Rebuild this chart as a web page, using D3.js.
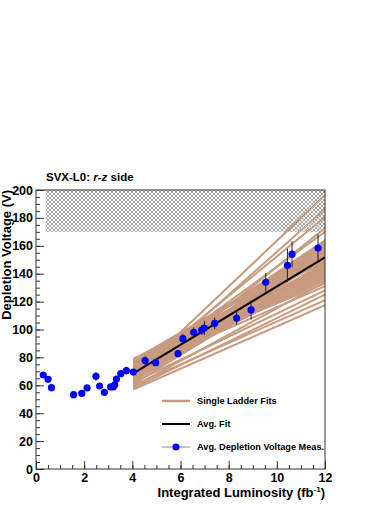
<!DOCTYPE html>
<html>
<head>
<meta charset="utf-8">
<script src="https://cdn.jsdelivr.net/npm/d3@7"></script>
<style>
  html, body { margin: 0; padding: 0; background: #fff; }
  svg { display: block; }
  text { font-family: "Liberation Sans", Arial, Helvetica, sans-serif; font-weight: bold; fill: #000; }
  .tick text { font-size: 12.5px; }
  .legend text { font-size: 9.2px; }
</style>
</head>
<body>
<svg id="chart" width="390" height="505"></svg>
<script>
// ---- data --------------------------------------------------------------
const lumi   = [0.30, 0.50, 0.64, 1.56, 1.90, 2.12, 2.49, 2.64, 2.84, 3.10, 3.21, 3.27, 3.34, 3.52, 3.75,
                4.04, 4.53, 4.97, 5.90, 6.10, 6.55, 6.88, 6.99, 7.42, 8.33, 8.93, 9.54, 10.44, 10.63, 11.71];
const vdep   = [67.4, 64.3, 58.3, 53.3, 54.2, 58.1, 66.4, 59.5, 55.0, 58.8, 58.8, 60.4, 64.5, 68.3, 70.5,
                69.5, 77.7, 76.2, 82.7, 93.4, 98.0, 99.6, 101.0, 104.4, 108.2, 114.0, 133.8, 146.0, 154.0, 158.4];
const vdepErr= [1.5, 1.5, 1.5, 1.2, 1.2, 1.2, 3.2, 1.5, 1.5, 1.5, 1.5, 1.5, 1.5, 1.5, 3.0,
                1.5, 3.0, 2.0, 2.5, 3.5, 3.5, 3.5, 5.0, 4.2, 4.8, 6.7, 6.6, 12.0, 9.4, 9.8];

// single ladder fits: value at the start (4.04 fb^-1) and at the end (12 fb^-1)
const fitRange    = [4.04, 12];
const ladderStart = [66, 64, 68, 62, 70, 72, 65, 75, 60, 78, 68, 73, 63, 76, 70, 79,
                     66, 74, 61, 77, 69, 72, 64, 78, 67, 75, 59, 71, 62, 58, 60, 57,
                     71, 67, 74, 70, 64, 77, 69, 72, 66, 75, 63, 73, 68, 76, 70, 65, 74, 71, 69, 73, 76];
const ladderEnd   = [196.4, 186.4, 180.6, 172.8, 170, 164, 162.5, 161, 159.5, 158, 156.5, 155, 153.5, 152, 150.5, 149,
                     147.5, 146, 145, 144, 143, 142, 141, 140, 138, 136, 134, 131, 128, 125, 121, 117.5,
                     163, 161.5, 160, 158.5, 157, 156, 154, 152.5, 151, 149.5, 148.5, 147, 145.5, 144.5, 143.5, 142.5, 141.5, 139, 137, 135, 133];
const avgFit      = [68.5, 151.8];   // at fitRange[0], fitRange[1]

const hatchX = [0.4, 12], hatchY = [170, 200];   // excluded region

const xDomain = [0, 12], yDomain = [0, 200];
const xMajor = d3.range(0, 12.01, 2),  xMinor = d3.range(0, 12.01, 0.5);
const yMajor = d3.range(0, 200.1, 20), yMinor = d3.range(0, 200.1, 5);

const legendItems = ["Single Ladder Fits", "Avg. Fit", "Avg. Depletion Voltage Meas."];

// ---- layout -------------------------------------------------------------
const L = 36, R = 325, T = 190, B = 469;
const svg = d3.select("#chart");
const x = d3.scaleLinear().domain(xDomain).range([L, R]);
const y = d3.scaleLinear().domain(yDomain).range([B, T]);

const defs = svg.append("defs");
const pat = defs.append("pattern").attr("id", "hatch").attr("patternUnits", "userSpaceOnUse")
  .attr("width", 4).attr("height", 4);
pat.append("path").attr("d", "M0,0L4,4M4,0L0,4").attr("stroke", "#8c8c8c").attr("stroke-width", 0.8);
defs.append("clipPath").attr("id", "plot").append("rect")
  .attr("x", L).attr("y", T).attr("width", R - L).attr("height", B - T);

const g = svg.append("g").attr("clip-path", "url(#plot)");

// hatched band
g.append("rect")
  .attr("x", x(hatchX[0])).attr("y", y(hatchY[1]))
  .attr("width", x(hatchX[1]) - x(hatchX[0])).attr("height", y(hatchY[0]) - y(hatchY[1]))
  .attr("fill", "url(#hatch)");

const TAN = "#c89b80";

// single ladder fits
g.append("g").selectAll("line").data(ladderStart).join("line")
  .attr("x1", x(fitRange[0])).attr("x2", x(fitRange[1]))
  .attr("y1", d => y(d)).attr("y2", (d, i) => y(ladderEnd[i]))
  .attr("stroke", TAN).attr("stroke-width", 2);

// avg fit
g.append("line")
  .attr("x1", x(fitRange[0])).attr("x2", x(fitRange[1]))
  .attr("y1", y(avgFit[0])).attr("y2", y(avgFit[1]))
  .attr("stroke", "#000").attr("stroke-width", 2);

// measurements
const pts = lumi.map((v, i) => ({ x: v, y: vdep[i], e: vdepErr[i] }));
g.append("g").selectAll("line").data(pts).join("line")
  .attr("x1", d => x(d.x)).attr("x2", d => x(d.x))
  .attr("y1", d => y(d.y - d.e)).attr("y2", d => y(d.y + d.e))
  .attr("stroke", "#222").attr("stroke-width", 1);
g.append("g").selectAll("circle").data(pts).join("circle")
  .attr("cx", d => x(d.x)).attr("cy", d => y(d.y)).attr("r", 3.6)
  .attr("fill", "#0000ff");

// frame
svg.append("rect").attr("x", L).attr("y", T).attr("width", R - L).attr("height", B - T)
  .attr("fill", "none").attr("stroke", "#333").attr("stroke-width", 1);

// axes
function axis(gen, tr) {
  const a = svg.append("g").attr("transform", tr).call(gen);
  a.select(".domain").remove();
  a.selectAll(".tick line").attr("stroke", "#333");
  return a;
}
axis(d3.axisBottom(x).tickValues(xMinor).tickSize(-4).tickFormat(""), `translate(0,${B})`);
axis(d3.axisBottom(x).tickValues(xMajor).tickSize(-8).tickPadding(4).tickFormat(d3.format("d")), `translate(0,${B})`);
axis(d3.axisLeft(y).tickValues(yMinor).tickSize(-4).tickFormat(""), `translate(${L},0)`);
axis(d3.axisLeft(y).tickValues(yMajor).tickSize(-8).tickPadding(3).tickFormat(d3.format("d")), `translate(${L},0)`);

// axis titles
const xt = svg.append("text").attr("x", R).attr("y", 497).attr("text-anchor", "end").style("font-size", "13px");
xt.append("tspan").text("Integrated Luminosity (fb");
xt.append("tspan").attr("dy", -5).style("font-size", "8px").text("-1");
xt.append("tspan").attr("dy", 5).text(")");

svg.append("text").attr("transform", `translate(11,${T}) rotate(-90)`)
  .attr("text-anchor", "end").style("font-size", "13px").text("Depletion Voltage (V)");

// title
const tt = svg.append("text").attr("x", 46).attr("y", 181).style("font-size", "11.5px");
tt.append("tspan").text("SVX-L0: ");
tt.append("tspan").style("font-style", "italic").text("r-z");
tt.append("tspan").text(" side");

// legend
const leg = svg.append("g").attr("class", "legend");
const ly = [401, 424, 447];
const lg = leg.selectAll("g").data(legendItems).join("g")
  .attr("transform", (d, i) => `translate(0,${ly[i]})`);
lg.append("line").attr("x1", 162).attr("x2", 190)
  .attr("stroke", (d, i) => [TAN, "#000", "#888"][i])
  .attr("stroke-width", (d, i) => [2.5, 2, 1][i]);
lg.filter((d, i) => i === 2).append("circle").attr("cx", 176).attr("r", 3.6).attr("fill", "#0000ff");
lg.append("text").attr("x", 197).attr("dy", "0.35em").text(d => d);
</script>
</body>
</html>
